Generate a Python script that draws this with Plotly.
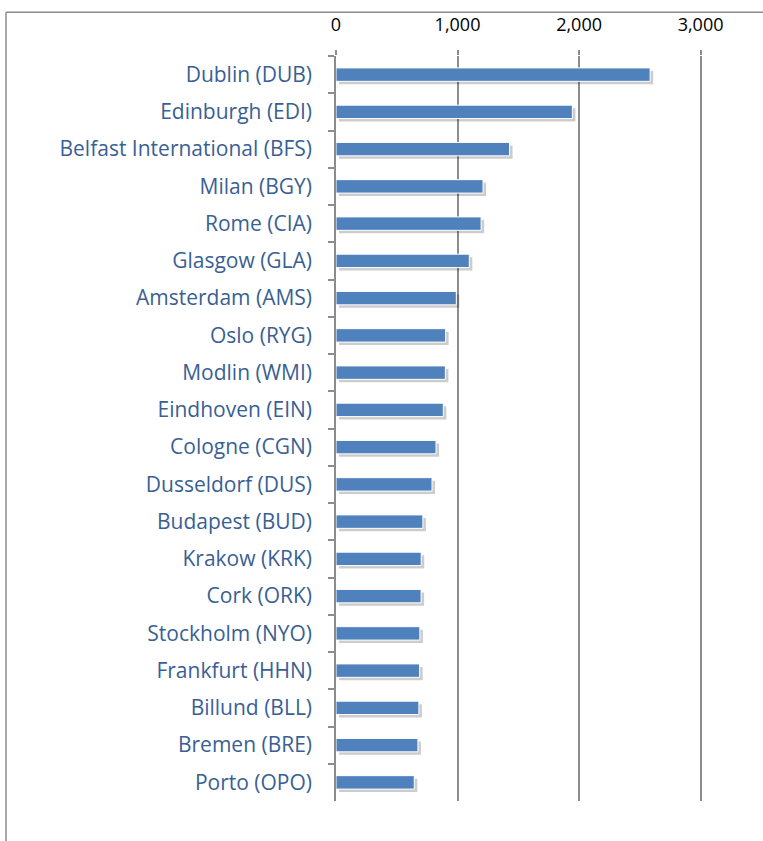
import plotly.graph_objects as go

# passengers by airport (thousands)
airports = [
    "Dublin (DUB)", "Edinburgh (EDI)", "Belfast International (BFS)", "Milan (BGY)",
    "Rome (CIA)", "Glasgow (GLA)", "Amsterdam (AMS)", "Oslo (RYG)", "Modlin (WMI)",
    "Eindhoven (EIN)", "Cologne (CGN)", "Dusseldorf (DUS)", "Budapest (BUD)",
    "Krakow (KRK)", "Cork (ORK)", "Stockholm (NYO)", "Frankfurt (HHN)",
    "Billund (BLL)", "Bremen (BRE)", "Porto (OPO)",
]
passengers = [2585, 1945, 1428, 1210, 1194, 1097, 990, 902, 900, 883,
              823, 790, 715, 701, 700, 690, 688, 682, 674, 644]

tick_vals = [0, 1000, 2000, 3000]
tick_text = ["0", "1,000", "2,000", "3,000"]

grey = "#8c8c8c"
bar_blue = "#4f81bd"
label_blue = "#3a5f94"

fig = go.Figure()

# soft drop shadow under each bar
fig.add_trace(go.Bar(
    y=airports, x=passengers, base=25, orientation="h",
    width=0.36, offset=-0.10,
    marker=dict(color="rgba(0,0,0,0.2)", line=dict(width=0)),
    hoverinfo="skip", showlegend=False,
))
fig.add_trace(go.Bar(
    y=airports, x=passengers, orientation="h",
    width=0.36, offset=-0.18,
    marker=dict(color=bar_blue, line=dict(color="white", width=1)),
    showlegend=False,
))

fig.update_layout(
    width=763, height=841,
    margin=dict(l=336, r=60, t=51, b=40),
    plot_bgcolor="white", paper_bgcolor="white",
    barmode="overlay",
    font=dict(family="Open Sans, Lato, sans-serif"),
    xaxis=dict(
        side="top", range=[0, 3020],
        tickvals=tick_vals, ticktext=tick_text,
        tickfont=dict(size=18, color="black"),
        showgrid=True, gridcolor=grey, gridwidth=1.5,
        ticks="outside", ticklen=5, tickcolor=grey, tickwidth=1.5,
        ticklabelstandoff=12,
        showline=False, zeroline=False,
    ),
    yaxis=dict(
        autorange="reversed",
        tickfont=dict(size=21, color=label_blue),
        ticks="outside", tickson="boundaries", ticklen=6,
        tickcolor=grey, tickwidth=1.5,
        showline=True, linecolor=grey, linewidth=1.5,
        showgrid=False, ticklabelstandoff=18,
    ),
    shapes=[
        # outer chart-area frame (left and top edges visible)
        dict(type="line", xref="paper", yref="paper",
             x0=(6 - 336) / 367, x1=1.2, y0=(841 - 40 - 7) / 750, y1=(841 - 40 - 7) / 750,
             line=dict(color=grey, width=1.5)),
        dict(type="line", xref="paper", yref="paper",
             x0=(6 - 336) / 367, x1=(6 - 336) / 367, y0=-0.1, y1=(841 - 40 - 7) / 750,
             line=dict(color=grey, width=1.5)),
    ],
)

fig.write_html("out.html", config={"displayModeBar": False},
               post_script="document.body.style.margin='0';")
